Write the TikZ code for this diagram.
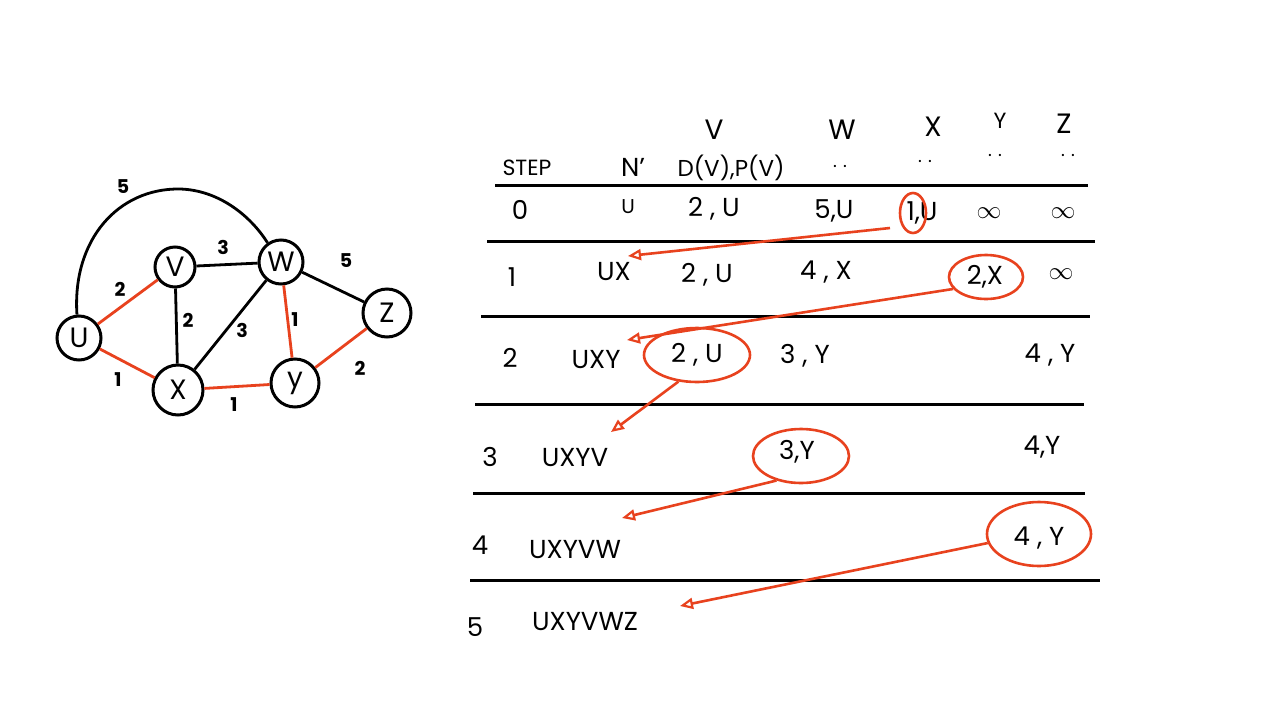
\documentclass[tikz,border=0pt]{standalone}
\usepackage{fontspec}
\setmainfont{Poppins}
\usetikzlibrary{arrows.meta,shapes.geometric}
\definecolor{hred}{RGB}{232,66,30}
\tikzset{
  vert/.style={circle,draw=black,line width=3pt,minimum size=#1,inner sep=0pt,font=\fontsize{28}{30}\selectfont},
  vert/.default=44pt,
  blk/.style={line width=2.8pt,black},
  redge/.style={line width=2.8pt,hred},
  wlab/.style={font=\bfseries\fontsize{19}{20}\selectfont},
  hdr/.style={font=\fontsize{28}{30}\selectfont},
  cell/.style={font=\fontsize{26}{28}\selectfont},
  dots/.style={font=\fontsize{18}{18}\selectfont,inner sep=0pt},
  rule/.style={line width=3pt,black},
  ring/.style={ellipse,draw=hred,line width=2.6pt,inner sep=0pt},
  rarrow/.style={hred,line width=2.6pt,-{Triangle[open,length=13pt,width=11pt,line width=2.2pt]}}
}
\begin{document}
\begin{tikzpicture}[x=1pt,y=-1pt]
\fill[white] (0,0) rectangle (1280,710);
\useasboundingbox (0,0) rectangle (1280,710);
% ---------- graph ----------
\node[vert] (u) at (79,338) {U};
\node[vert=40pt] (v) at (175,267) {V};
\node[vert] (w) at (281,262) {W};
\node[vert=48pt] (z) at (387,313) {Z};
\node[vert=50pt] (x) at (178,390) {X};
\node[vert=48pt] (y) at (295,383) {y};
\draw[redge] (u) -- (v);
\draw[redge] (u) -- (x);
\draw[redge] (w) -- (y);
\draw[redge] (y) -- (z);
\draw[redge] (x) -- (y);
\draw[blk] (v) -- (w);
\draw[blk] (v) -- (x);
\draw[blk] (x) -- (w);
\draw[blk] (w) -- (z);
\draw[blk] (u.95) .. controls (72,240) and (118,188) .. (180,189) .. controls (218,190) and (250,215) .. (w.125);
\node[wlab] (l1) at (123,187) {5};
\node[wlab] (l2) at (120,289) {2};
\node[wlab] (l3) at (223,247) {3};
\node[wlab] (l4) at (188,320) {2};
\node[wlab] (l5) at (242,330) {3};
\node[wlab] (l6) at (295,320) {1};
\node[wlab] (l7) at (346,261) {5};
\node[wlab] (l8) at (360,368) {2};
\node[wlab] (l9) at (118,380) {1};
\node[wlab] (l10) at (234,405) {1};
% ---------- table header ----------
\node[hdr] (hv) at (714,130) {V};
\node[hdr] (hw) at (842,130) {W};
\node[hdr] (hx) at (933,127) {X};
\node[hdr,font=\fontsize{22}{24}\selectfont] (hy) at (1000,121) {Y};
\node[hdr] (hz) at (1064,124) {Z};
\node[cell,font=\fontsize{22}{24}\selectfont] (hstep) at (527,168) {STEP};
\node[cell] (hn) at (633,167) {N'};
\node[cell,font=\fontsize{23}{24}\selectfont] (hd) at (731,168) {D(V),P(V)};
\node[dots] (d1) at (840,166) {. .};
\node[dots] (d2) at (925,161) {. .};
\node[dots] (d3) at (995,155) {. .};
\node[dots] (d4) at (1068,155) {. .};
% ---------- rules ----------
\draw[rule] (495,185) coordinate (r0a) -- (1088,185) coordinate (r0b);
\draw[rule] (487,241) coordinate (r1a) -- (1095,241) coordinate (r1b);
\draw[rule] (481,316) coordinate (r2a) -- (1090,316) coordinate (r2b);
\draw[rule] (475,404) coordinate (r3a) -- (1084,404) coordinate (r3b);
\draw[rule] (473,493) coordinate (r4a) -- (1085,493) coordinate (r4b);
\draw[rule] (470,580) coordinate (r5a) -- (1100,580) coordinate (r5b);
% ---------- row 0 ----------
\node[cell] (s0) at (520,210) {0};
\node[cell,font=\fontsize{20}{22}\selectfont] (n0) at (628,207) {U};
\node[cell] (a0) at (714,209) {2 , U};
\node[cell] (b0) at (834,211) {5,U};
\node[cell] (c0) at (922,213) {1,U};
\node[cell] (e0) at (989,213) {$\infty$};
\node[cell] (f0) at (1063,213) {$\infty$};
% ---------- row 1 ----------
\node[cell] (s1) at (512,277) {1};
\node[cell] (n1) at (614,272) {UX};
\node[cell] (a1) at (707,275) {2 , U};
\node[cell] (b1) at (826,272) {4 , X};
\node[cell] (e1) at (985,277) {2,X};
\node[cell] (f1) at (1061,274) {$\infty$};
% ---------- row 2 ----------
\node[cell] (s2) at (510,358) {2};
\node[cell] (n2) at (596,360) {UXY};
\node[cell] (a2) at (697,355) {2 , U};
\node[cell] (b2) at (805,356) {3 , Y};
\node[cell] (f2) at (1050,355) {4 , Y};
% ---------- row 3 ----------
\node[cell] (s3) at (490,457) {3};
\node[cell] (n3) at (575,458) {UXYV};
\node[cell] (b3) at (797,452) {3,Y};
\node[cell] (f3) at (1042,447) {4,Y};
% ---------- row 4 ----------
\node[cell] (s4) at (480,545) {4};
\node[cell] (n4) at (575,550) {UXYVW};
\node[cell] (f4) at (1039,538) {4 , Y};
% ---------- row 5 ----------
\node[cell] (s5) at (475,627) {5};
\node[cell] (n5) at (585,622) {UXYVWZ};
% ---------- red rings ----------
\node[ring,minimum width=26pt,minimum height=40pt] (k0) at (913,213) {};
\node[ring,minimum width=74pt,minimum height=44pt] (k1) at (986,277) {};
\node[ring,minimum width=106pt,minimum height=54pt] (k2) at (697,355) {};
\node[ring,minimum width=96pt,minimum height=54pt] (k3) at (801,456) {};
\node[ring,minimum width=104pt,minimum height=64pt] (k4) at (1039,534) {};
% ---------- red arrows ----------
\coordinate (t0) at (628,256);
\coordinate (t1) at (627,340);
\coordinate (t2) at (611,432);
\coordinate (t3) at (622,518);
\coordinate (t4) at (680,606);
\draw[rarrow] (890,228) -- (t0);
\draw[rarrow] (k1.200) -- (t1);
\draw[rarrow] (k2.235) -- (t2);
\draw[rarrow] (k3.225) -- (t3);
\draw[rarrow] (k4.190) -- (t4);
\end{tikzpicture}
\end{document}
